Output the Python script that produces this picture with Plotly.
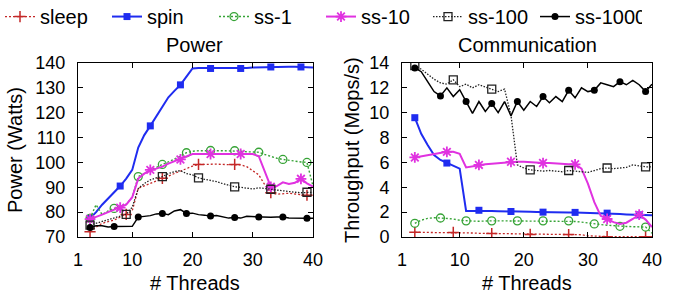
import plotly.graph_objects as go

# ---------------- data ----------------
threads = list(range(3, 41))
x_ticks = [1, 10, 20, 30, 40]
power_ticks = [70, 80, 90, 100, 110, 120, 130, 140]
tput_ticks = [0, 2, 4, 6, 8, 10, 12, 14]
series_names = ["sleep", "spin", "ss-1", "ss-10", "ss-100", "ss-1000"]

# Power (Watts)
sleep_power = [72.1, 74.0, 75.5, 76.2, 76.8, 78.0, 79.1, 80.5, 89.6, 90.6, 91.6, 92.6, 93.6, 94.6,
               95.6, 96.6, 97.6, 98.5, 99.2, 99.3, 99.2, 99.3, 99.2, 99.2, 99.2, 99.0, 98.3, 96.5,
               95.0, 91.0, 87.8, 87.2, 87.3, 87.6, 87.3, 86.9, 86.8, 86.8]
spin_power = [77.5, 80.0, 83.0, 85.5, 88.0, 90.5, 93.5, 97.0, 106.0, 111.0, 114.7, 118.5, 122.4, 126.2,
              128.8, 131.2, 134.5, 137.8, 138.0, 138.0, 137.8, 138.0, 138.0, 137.9, 137.8, 137.8, 138.0,
              138.2, 138.3, 138.3, 138.4, 138.4, 138.4, 138.5, 138.5, 138.4, 138.4, 138.2]
ss1_power = [77.5, 83.0, 79.0, 80.5, 81.5, 82.2, 83.2, 86.0, 94.3, 95.5, 96.8, 98.0, 99.2, 100.2,
             101.2, 102.5, 103.9, 104.5, 104.7, 104.8, 104.8, 104.7, 104.7, 104.7, 104.7, 104.5, 104.3,
             104.2, 104.1, 103.2, 102.3, 101.7, 101.2, 100.8, 100.5, 100.2, 100.0, 90.5]
ss10_power = [77.2, 78.0, 79.0, 80.0, 81.0, 81.8, 83.0, 86.0, 93.5, 95.5, 97.0, 97.5, 98.3, 99.5,
              100.5, 101.2, 102.5, 103.4, 103.4, 103.4, 103.4, 103.4, 103.4, 103.4, 103.4, 103.4, 103.4,
              103.4, 102.5, 96.5, 90.2, 90.5, 92.0, 91.3, 91.8, 93.4, 91.6, 90.3]
ss100_power = [74.8, 75.5, 76.0, 76.8, 77.5, 78.3, 79.1, 82.0, 89.5, 91.5, 93.0, 93.8, 94.3, 95.5,
               96.3, 96.7, 95.5, 95.0, 93.8, 93.2, 92.8, 92.3, 91.5, 90.7, 90.2, 90.0, 89.6, 89.3,
               89.8, 89.5, 89.2, 88.7, 88.4, 88.2, 88.0, 87.8, 88.0, 88.0]
ss1000_power = [73.8, 74.5, 74.5, 74.0, 74.2, 74.2, 74.2, 74.3, 78.0, 78.3, 78.6, 79.3, 79.5, 79.0,
                80.5, 81.0, 79.5, 79.6, 79.0, 78.8, 78.4, 78.6, 78.2, 77.6, 77.8, 77.6, 78.3, 78.2,
                78.0, 77.7, 77.9, 78.0, 78.0, 77.6, 77.5, 77.6, 77.5, 77.5]

# Throughput (Mops/s)
sleep_tput = [0.38, 0.38, 0.38, 0.38, 0.38, 0.37, 0.37, 0.35, 0.33, 0.32, 0.30, 0.29, 0.28, 0.27,
              0.26, 0.25, 0.24, 0.22, 0.21, 0.20, 0.20, 0.20, 0.20, 0.20, 0.20, 0.19, 0.18, 0.10,
              0.06, 0.04, 0.03, 0.03, 0.03, 0.03, 0.03, 0.03, 0.03, 0.03]
spin_tput = [9.6, 8.3, 7.4, 6.6, 6.2, 5.95, 5.75, 5.5, 2.1, 2.1, 2.15, 2.12, 2.1, 2.08,
             2.06, 2.05, 2.05, 2.04, 2.03, 2.02, 2.0, 2.0, 2.0, 2.0, 1.98, 1.98, 1.97, 1.96,
             1.95, 1.93, 1.92, 1.88, 1.85, 1.82, 1.8, 1.78, 1.76, 1.74]
ss1_tput = [1.1, 1.35, 1.5, 1.55, 1.53, 1.5, 1.45, 1.35, 1.3, 1.28, 1.27, 1.3, 1.3, 1.3,
            1.3, 1.3, 1.3, 1.3, 1.3, 1.3, 1.3, 1.3, 1.3, 1.3, 1.3, 1.25, 1.2, 1.12,
            1.05, 1.0, 0.95, 0.9, 0.86, 0.85, 0.83, 0.82, 0.8, 0.3]
ss10_tput = [6.4, 6.5, 6.6, 6.7, 6.8, 6.85, 6.85, 6.7, 5.6, 5.7, 5.8, 5.85, 5.9, 5.95,
             6.0, 6.05, 6.05, 6.05, 6.0, 6.0, 5.95, 5.95, 5.9, 5.9, 5.85, 5.85, 5.5, 4.3,
             2.8, 1.7, 1.45, 1.2, 1.05, 1.15, 1.45, 1.8, 1.4, 0.8]
ss100_tput = [13.8, 13.5, 13.1, 12.7, 12.4, 12.3, 12.65, 12.1, 12.3, 12.0, 12.25, 12.05, 11.9, 11.7,
              11.9, 9.8, 5.8, 5.55, 5.4, 5.35, 5.3, 5.35, 5.3, 5.25, 5.35, 5.3, 5.2, 5.2,
              5.35, 5.5, 5.55, 5.5, 5.55, 5.6, 5.8, 5.7, 5.65, 5.65]
ss1000_tput = [13.6, 13.3, 12.5, 11.7, 11.35, 12.0, 11.3, 11.85, 10.9, 9.95, 10.9, 10.1, 10.75, 10.0,
               10.9, 9.75, 10.9, 10.2, 10.9, 10.5, 11.3, 10.8, 11.3, 10.9, 11.8, 11.2, 12.0, 11.7,
               11.8, 12.4, 12.25, 12.1, 12.5, 12.25, 12.6, 12.25, 11.7, 12.3]

power_data = [sleep_power, spin_power, ss1_power, ss10_power, ss100_power, ss1000_power]
tput_data = [sleep_tput, spin_tput, ss1_tput, ss10_tput, ss100_tput, ss1000_tput]

# ---------------- styles ----------------
styles = {
    "sleep":   dict(color="#c42727", dash="2px,2px", width=1.3, symbol="cross-thin-open", msize=8, mlw=1.5, every=6),
    "spin":    dict(color="#1f2cf0", dash="solid", width=2.0, symbol="square", msize=7, mlw=0, every=5),
    "ss-1":    dict(color="#36a336", dash="2px,2px", width=1.4, symbol="circle-open", msize=8, mlw=1.3, every=4),
    "ss-10":   dict(color="#e032e0", dash="solid", width=2.0, symbol="asterisk-open", msize=9, mlw=1.8, every=5),
    "ss-100":  dict(color="#222222", dash="1.5px,1.5px", width=1.3, symbol="square-open", msize=8, mlw=1.3, every=6),
    "ss-1000": dict(color="#000000", dash="solid", width=1.5, symbol="circle", msize=7, mlw=0, every=4),
}

FONT = "Liberation Sans, Arial, sans-serif"
TICK_SIZE = 18
LABEL_SIZE = 20
LEGEND_SIZE = 20
fig = go.Figure()


def add_series(name, ys, xa, ya):
    st = styles[name]
    fig.add_trace(go.Scatter(
        x=threads, y=ys, mode="lines", xaxis=xa, yaxis=ya, showlegend=False,
        line=dict(color=st["color"], dash=st["dash"], width=st["width"]), hoverinfo="skip"))
    k = st["every"]
    fig.add_trace(go.Scatter(
        x=threads[::k], y=ys[::k], mode="markers", xaxis=xa, yaxis=ya, showlegend=False,
        marker=dict(symbol=st["symbol"], size=st["msize"], color=st["color"],
                    line=dict(color=st["color"], width=st["mlw"]))))


for name, ys in zip(series_names, power_data):
    add_series(name, ys, "x", "y")
for name, ys in zip(series_names, tput_data):
    add_series(name, ys, "x2", "y2")

# legend-only entries
for name in series_names:
    st = styles[name]
    fig.add_trace(go.Scatter(
        x=[None], y=[None], mode="lines+markers", name=name, showlegend=True,
        line=dict(color=st["color"], dash=st["dash"], width=st["width"]),
        marker=dict(symbol=st["symbol"], size=st["msize"], color=st["color"],
                    line=dict(color=st["color"], width=st["mlw"]))))

W, H = 679, 294
axis_common = dict(
    showline=True, linecolor="black", linewidth=1, mirror="allticks",
    ticks="inside", ticklen=5, tickcolor="black", tickwidth=1,
    showgrid=False, zeroline=False, tickfont=dict(family=FONT, size=TICK_SIZE, color="black"),
)
y_dom = [(H - 237) / H, (H - 63) / H]
fig.update_layout(
    width=W, height=H,
    margin=dict(l=0, r=0, t=0, b=0, autoexpand=False),
    paper_bgcolor="white", plot_bgcolor="white",
    font=dict(family=FONT, size=LABEL_SIZE, color="black"),
    xaxis=dict(domain=[78 / W, 313 / W], range=[1, 40], tickvals=x_ticks, ticklabelstandoff=6, **axis_common),
    yaxis=dict(domain=y_dom, range=[70, 140], tickvals=power_ticks, ticklabelstandoff=8, **axis_common),
    xaxis2=dict(domain=[402 / W, 652 / W], range=[1, 40], tickvals=x_ticks, anchor="y2",
                ticklabelstandoff=6, **axis_common),
    yaxis2=dict(domain=y_dom, range=[0, 14], tickvals=tput_ticks, anchor="x2",
                ticklabelstandoff=8, **axis_common),
    legend=dict(orientation="h", x=0, y=1.01, xanchor="left", yanchor="top",
                entrywidth=62, entrywidthmode="pixels", tracegroupgap=0,
                font=dict(family=FONT, size=LEGEND_SIZE, color="black"), bgcolor="rgba(0,0,0,0)",
                itemwidth=30),
    showlegend=True,
)

annos = [
    dict(text="Power", x=195 / W, y=(H - 45) / H),
    dict(text="Communication", x=527 / W, y=(H - 45) / H),
    dict(text="# Threads", x=195 / W, y=(H - 283) / H),
    dict(text="# Threads", x=527 / W, y=(H - 283) / H),
    dict(text="Power (Watts)", x=15 / W, y=(H - 150) / H, textangle=-90),
    dict(text="Throughput (Mops/s)", x=352 / W, y=(H - 150) / H, textangle=-90),
]
for a in annos:
    fig.add_annotation(xref="paper", yref="paper", showarrow=False, xanchor="center", yanchor="middle",
                       font=dict(family=FONT, size=LABEL_SIZE, color="black"), **a)

fig.write_html("out.html")
